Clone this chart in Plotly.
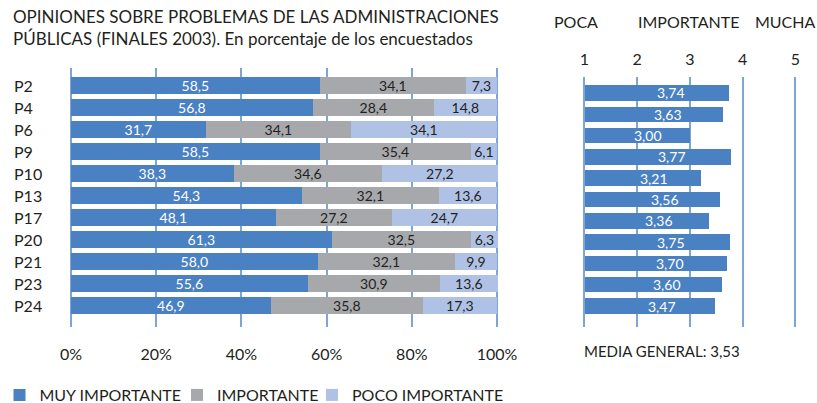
import plotly.graph_objects as go

categories = ["P2", "P4", "P6", "P9", "P10", "P13", "P17", "P20", "P21", "P23", "P24"]
muy_importante = [58.5, 56.8, 31.7, 58.5, 38.3, 54.3, 48.1, 61.3, 58.0, 55.6, 46.9]
importante = [34.1, 28.4, 34.1, 35.4, 34.6, 32.1, 27.2, 32.5, 32.1, 30.9, 35.8]
poco_importante = [7.3, 14.8, 34.1, 6.1, 27.2, 13.6, 24.7, 6.3, 9.9, 13.6, 17.3]
media = [3.74, 3.63, 3.00, 3.77, 3.21, 3.56, 3.36, 3.75, 3.70, 3.60, 3.47]
media_general = 3.53

series_names = ["MUY IMPORTANTE", "IMPORTANTE", "POCO IMPORTANTE"]
pct_ticks = [0, 20, 40, 60, 80, 100]
pct_labels = ["0%", "20%", "40%", "60%", "80%", "100%"]
scale_ticks = [1, 2, 3, 4, 5]
scale_labels = ["1", "2", "3", "4", "5"]
scale_headers = ["POCA", "IMPORTANTE", "MUCHA"]
title_lines = ["OPINIONES SOBRE PROBLEMAS DE LAS ADMINISTRACIONES",
               "PÚBLICAS (FINALES 2003). En porcentaje de los encuestados"]

BLUE = "#4a81c3"
GRAY = "#a7a8ab"
LIGHT = "#afc2e5"
GRID = "#7ea5d8"
TXT = "#231f20"
FONT = "Lato"
W, H = 817, 403

# pixel geometry of the two panels
L0, L1 = 71.0, 497.0          # 0% .. 100%
R0, R1 = 584.3, 795.3         # 1 .. 5
lpad = 0.5                    # range padding (data units) so edge gridlines show
rpad = 0.03
lppu = (L1 - L0) / 100
rppu = (R1 - R0) / 4


def fmt(v, d=1):
    return f"{v:.{d}f}".replace(".", ",")


fig = go.Figure()
legend_ids = ["legend", "legend2", "legend3"]
for name, vals, col, tcol, lg in [
    (series_names[0], muy_importante, BLUE, "white", legend_ids[0]),
    (series_names[1], importante, GRAY, TXT, legend_ids[1]),
    (series_names[2], poco_importante, LIGHT, TXT, legend_ids[2]),
]:
    fig.add_trace(go.Bar(
        y=categories, x=vals, name=name, orientation="h",
        marker=dict(color=col, line=dict(width=0)),
        width=0.77,
        text=[fmt(v) for v in vals], textposition="inside",
        insidetextanchor="middle", textangle=0, constraintext="none",
        textfont=dict(color=tcol, size=14, family=FONT),
        xaxis="x", yaxis="y", legend=lg,
    ))

fig.add_trace(go.Bar(
    y=categories, x=[v - 1 for v in media], base=1, orientation="h",
    marker=dict(color=BLUE, line=dict(width=0)), width=0.73,
    showlegend=False, xaxis="x2", yaxis="y2",
))

annotations = []
for c, v in zip(categories, media):
    annotations.append(dict(
        x=1 + 0.6 * (v - 1), y=c, xref="x2", yref="y2", text=fmt(v, 2),
        showarrow=False, font=dict(color="white", size=14, family=FONT)))
for c in categories:
    annotations.append(dict(
        x=12 / W, y=c, xref="paper", yref="y", text=c, xanchor="left",
        showarrow=False, font=dict(color=TXT, size=16, family=FONT)))
for i, line in enumerate(title_lines):
    annotations.append(dict(
        x=11 / W, y=1 - (17 + 21 * i) / H, xref="paper", yref="paper",
        text=line, xanchor="left", yanchor="middle", showarrow=False,
        font=dict(color=TXT, size=17, family=FONT)))
for txt, px in zip(scale_headers, [576, 688, 785]):
    annotations.append(dict(
        x=px / W, y=1 - 22 / H, xref="paper", yref="paper", text=txt,
        xanchor="center", yanchor="middle", showarrow=False,
        font=dict(color=TXT, size=16, family=FONT)))
annotations.append(dict(
    x=582 / W, y=1 - 351 / H, xref="paper", yref="paper",
    text=f"MEDIA GENERAL: {fmt(media_general, 2)}", xanchor="left",
    yanchor="middle", showarrow=False,
    font=dict(color=TXT, size=15, family=FONT)))

legend_common = dict(orientation="h", xanchor="left", y=1 - 395 / H,
                     yanchor="middle", font=dict(size=16, family=FONT, color=TXT),
                     bgcolor="rgba(0,0,0,0)", borderwidth=0)

fig.update_layout(
    width=W, height=H,
    margin=dict(l=0, r=0, t=0, b=0, autoexpand=False),
    paper_bgcolor="white", plot_bgcolor="white",
    barmode="stack", bargap=0,
    font=dict(family=FONT, color=TXT, size=16),
    xaxis=dict(domain=[(L0 - lpad * lppu) / W, (L1 + lpad * lppu) / W],
               range=[-lpad, 100 + lpad],
               tickvals=pct_ticks, ticktext=pct_labels,
               showgrid=True, gridcolor=GRID, gridwidth=2,
               zeroline=False, showline=False, ticks="", automargin=False,
               ticklabelstandoff=16, tickfont=dict(size=16), fixedrange=True),
    yaxis=dict(domain=[1 - 327 / H, 1 - 68 / H], type="category",
               categoryorder="array", categoryarray=categories,
               range=[10.98, -0.8], showticklabels=False, showgrid=False,
               zeroline=False, fixedrange=True, automargin=False),
    xaxis2=dict(domain=[(R0 - rpad * rppu) / W, (R1 + rpad * rppu) / W],
                range=[1 - rpad, 5 + rpad], side="top",
                anchor="y2", tickvals=scale_ticks, ticktext=scale_labels,
                showgrid=True, gridcolor=GRID, gridwidth=2,
                zeroline=False, showline=False, ticks="", automargin=False,
                ticklabelstandoff=8, tickfont=dict(size=16), fixedrange=True),
    yaxis2=dict(domain=[1 - 327 / H, 1 - 77 / H], type="category",
                anchor="x2", categoryorder="array", categoryarray=categories,
                range=[10.985, -0.75], showticklabels=False, showgrid=False,
                zeroline=False, fixedrange=True, automargin=False),
    legend=dict(x=-0.5 / W, **legend_common),
    legend2=dict(x=177 / W, **legend_common),
    legend3=dict(x=312 / W, **legend_common),
    annotations=annotations,
)

fig.write_html("out.html",
               config={"displayModeBar": False},
               post_script="document.body.style.margin='0';"
                           "document.body.style.overflow='hidden';")
